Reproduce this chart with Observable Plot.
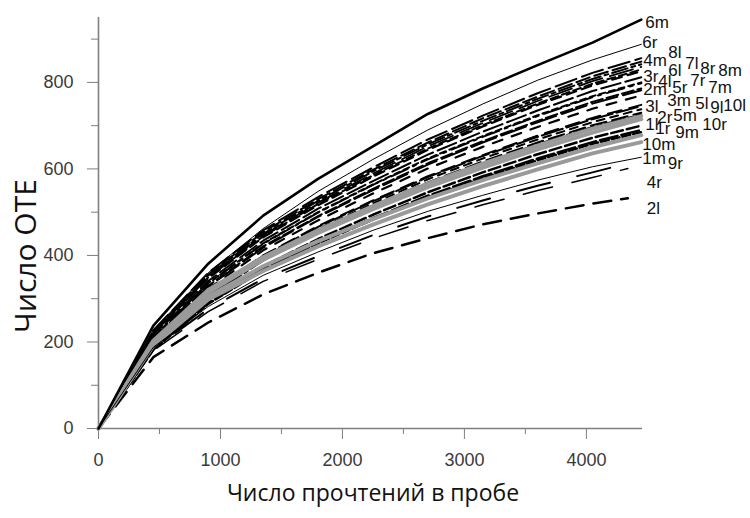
<!DOCTYPE html>
<html><head><meta charset="utf-8">
<script src="https://cdn.jsdelivr.net/npm/d3@7"></script>
<script src="https://cdn.jsdelivr.net/npm/@observablehq/plot@0.6"></script>
<style>body{margin:0;background:#fff}</style>
</head><body><div id="chart"></div>
<script>
// rarefaction grid (reads) shared by all samples; last point is each sample's depth
const readsGrid = [0, 450, 900, 1350, 1800, 2250, 2700, 3150, 3600, 4050];
const samples = ["6m","6r","8l","4m","7l","8r","6l","8m","3r","7r","4l","5r","7m","2m","10l","3m","5l","9l","5m","3l","2r","10r","1l","9m","1r","10m","1m","9r","4r","2l"];
const sampleDepth = [4450,4450,4450,4450,4450,4450,4450,4450,4450,4450,4450,4450,4450,4450,4450,4450,4450,4450,4450,4450,4450,4450,4450,4450,4450,4450,4450,4340,4340,4340];
const otuCounts = [
  [0,238,381,492,577,652,727,786,840,892,945],
  [0,228,360,462,548,622,690,750,805,852,888],
  [0,227,360,458,535,603,668,723,775,822,856],
  [0,225,356,454,530,598,661,717,767,814,848],
  [0,223,354,450,526,594,657,711,762,808,842],
  [0,221,351,447,522,589,652,706,757,803,836],
  [0,220,349,444,519,585,647,701,751,797,830],
  [0,219,347,442,516,582,644,698,748,793,826],
  [0,215,341,434,508,572,633,686,735,780,812],
  [0,212,336,428,500,564,624,676,724,768,800],
  [0,211,335,427,499,563,622,674,722,766,798],
  [0,208,330,421,491,554,613,664,711,755,786],
  [0,207,328,418,489,551,610,661,708,751,782],
  [0,204,323,412,481,543,601,651,697,739,770],
  [0,198,314,400,468,527,583,632,677,718,748],
  [0,197,313,399,466,525,581,630,674,715,745],
  [0,196,310,395,461,520,576,624,668,708,738],
  [0,193,307,391,456,515,569,617,661,701,730],
  [0,192,305,388,454,512,566,613,657,697,726],
  [0,203,320,396,458,514,566,612,654,693,722],
  [0,200,315,390,452,507,558,603,645,684,715],
  [0,186,294,375,438,494,546,592,634,672,700],
  [0,183,290,369,431,486,538,583,624,662,690],
  [0,182,288,366,428,483,534,579,620,658,685],
  [0,196,305,375,433,484,532,574,613,650,678],
  [0,192,298,364,421,471,518,560,599,636,662],
  [0,188,282,354,408,458,502,539,574,605,627],
  [0,184,276,346,398,447,490,527,561,592,613],
  [0,180,270,340,391,439,481,517,550,580,601],
  [0,165,245,310,360,405,440,472,497,520,532]
];
const xTicks = [0, 1000, 2000, 3000, 4000];
const xMinorTicks = [500, 1500, 2500, 3500];
const yTicks = [0, 200, 400, 600, 800];
const yMinorTicks = [100, 300, 500, 700, 900];
const yTitle = "Число ОТЕ";
const xTitle = "Число прочтений в пробе";

// line styles per sample
const styles = {
  "6m": {stroke: "#000", w: 2.6, dash: null},
  "6r": {stroke: "#000", w: 1, dash: null},
  "1m": {stroke: "#000", w: 1, dash: null},
  "3l": {stroke: "#9a9a9a", w: 4, dash: null},
  "2r": {stroke: "#9a9a9a", w: 4, dash: null},
  "1r": {stroke: "#9a9a9a", w: 4, dash: null},
  "10m": {stroke: "#9a9a9a", w: 4, dash: null},
  "4m": {dash: "14,5"}, "8l": {dash: "22,6"}, "6l": {dash: "8,4"}, "7l": {dash: "16,4,4,4"},
  "8r": {dash: "24,8", w: 1.8}, "8m": {dash: "10,6", w: 2.2}, "3r": {dash: "20,5"}, "7r": {dash: "6,4"},
  "4l": {dash: "18,6,3,6"}, "5r": {dash: "12,4"}, "7m": {dash: "26,6"}, "2m": {dash: "10,10", w: 2.2},
  "10l": {dash: "14,8"}, "3m": {dash: "22,4"}, "5l": {dash: "8,6"}, "9l": {dash: "16,6"},
  "5m": {dash: "20,4,4,4"}, "10r": {dash: "12,4", w: 2.5}, "1l": {dash: "18,4", w: 2.5}, "9m": {dash: "8,3", w: 2.5},
  "9r": {dash: "34,28", w: 2}, "4r": {dash: "30,20", w: 1.5}, "2l": {dash: "18,10", w: 2.5}
};
// label offsets (px) from each line's end point
const labelOffset = {
  "6m":[4,3],"6r":[1,-2],"4m":[2,-1],"8l":[27,-6],"6l":[27,1],"7l":[44,-1],"8r":[59,2],"8m":[77,-1],
  "3r":[2,-1],"4l":[17,-2],"5r":[31,-1],"7r":[49,-2],"7m":[67,-3],"2m":[2,-6],
  "3l":[4,-10],"3m":[26,-6],"5l":[54,-6],"9l":[69,-5],"10l":[82,1],"2r":[16,-2],"5m":[32,1],
  "1l":[4,-5],"1r":[14,-7],"9m":[34,0],"10r":[61,-1],"10m":[1,2],"1m":[1,1],"9r":[40,0],"4r":[19,14],"2l":[19,10]
};

const series = samples.map((name, i) => ({
  name,
  points: otuCounts[i].map((v, j) => ({reads: j < readsGrid.length ? readsGrid[j] : sampleDepth[i], otu: v}))
}));
const layerOf = n => (["3l","2r","1r","10m"].includes(n) ? 1 : (["6m","6r","1m"].includes(n) ? 2 : 0));
const ordered = [...series].sort((a, b) => layerOf(a.name) - layerOf(b.name));

const axisColor = "#7f7f7f";
const lineMarks = ordered.map(s => {
  const st = styles[s.name];
  return Plot.line(s.points, {x: "reads", y: "otu", stroke: st.stroke || "#000", strokeWidth: st.w || 2,
    strokeDasharray: st.dash || undefined, strokeLinejoin: "round"});
});
const labelMarks = series.map(s => {
  const last = s.points[s.points.length - 1];
  const [dx, dy] = labelOffset[s.name];
  return Plot.text([{x: last.reads, y: last.otu, t: s.name}], {x: "x", y: "y", text: "t", dx, dy,
    textAnchor: "start", fontSize: 17, fill: "#111", fontFamily: "Liberation Sans, Arial, sans-serif"});
});

const chart = Plot.plot({
  width: 750, height: 518,
  marginTop: 17, marginBottom: 90, marginLeft: 98, marginRight: 108,
  x: {domain: [0, 4460], axis: null},
  y: {domain: [0, 950], axis: null},
  style: {fontFamily: "Liberation Sans, Arial, sans-serif", background: "#fff"},
  marks: [
    Plot.axisX({ticks: xTicks, tickSize: 11, tickPadding: 14, fontSize: 18, stroke: axisColor, fill: "#3a3a3a", tickFormat: d3.format("d"), label: null}),
    Plot.axisX({ticks: xMinorTicks, tickSize: 6, stroke: axisColor, fill: "none", label: null}),
    Plot.axisY({ticks: yTicks, tickSize: 11, tickPadding: 14, fontSize: 18, stroke: axisColor, fill: "#3a3a3a", tickFormat: d3.format("d"), label: null}),
    Plot.axisY({ticks: yMinorTicks, tickSize: 7, stroke: axisColor, fill: "none", label: null}),
    Plot.ruleX([0], {stroke: axisColor, strokeWidth: 1.6}),
    Plot.ruleY([0], {stroke: axisColor, strokeWidth: 1.6}),
    ...lineMarks,
    ...labelMarks
  ]
});
const svg = d3.select(chart);
svg.append("text").text(yTitle)
  .attr("transform", "translate(36,256) rotate(-90)")
  .attr("text-anchor", "middle").attr("fill", "#111")
  .style("font-family", "'Open Sans', sans-serif").style("font-size", "30px");
svg.append("text").text(xTitle)
  .attr("transform", "translate(373,501)")
  .attr("text-anchor", "middle").attr("fill", "#111")
  .style("font-family", "'Open Sans', sans-serif").style("font-size", "23px");
document.getElementById("chart").appendChild(chart);
</script>
</body></html>
